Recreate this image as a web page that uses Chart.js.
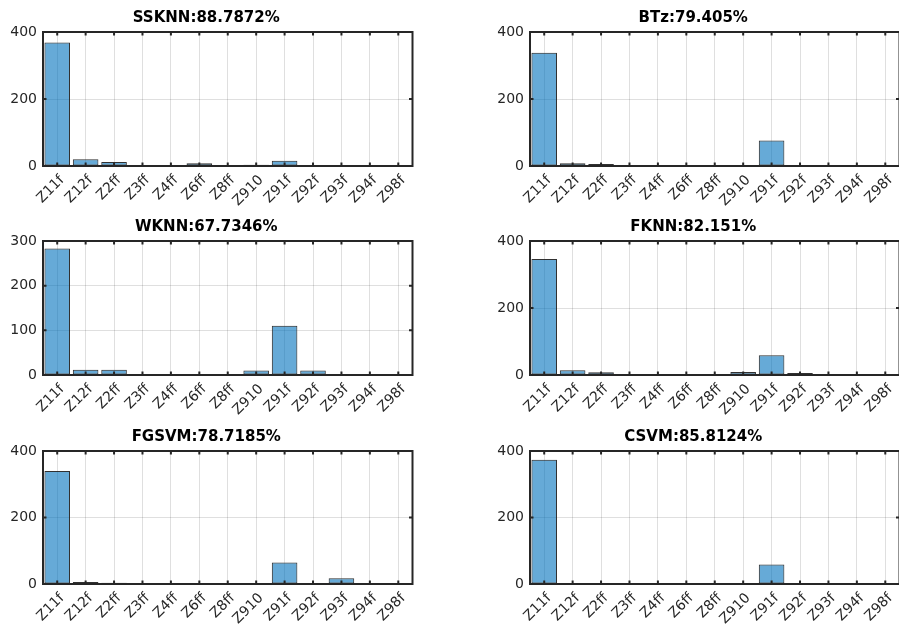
<!DOCTYPE html>
<html>
<head>
<meta charset="utf-8">
<script src="https://cdn.jsdelivr.net/npm/chart.js@4.4.1/dist/chart.umd.min.js"></script>
<style>
  html, body { margin: 0; padding: 0; background: #ffffff; }
  body { width: 899px; height: 629px; overflow: hidden; position: relative; }
  canvas { position: absolute; }
</style>
</head>
<body>
<canvas id="p1"></canvas>
<canvas id="p2"></canvas>
<canvas id="p3"></canvas>
<canvas id="p4"></canvas>
<canvas id="p5"></canvas>
<canvas id="p6"></canvas>
<script>
// Predicted-class counts for each classifier
const categories = ['Z11f', 'Z12f', 'Z2ff', 'Z3ff', 'Z4ff', 'Z6ff', 'Z8ff', 'Z910', 'Z91f', 'Z92f', 'Z93f', 'Z94f', 'Z98f'];

const ssknnCounts = [369, 20, 12, 0, 0, 8, 0, 4, 16, 2, 2, 0, 0];
const btzCounts   = [338, 8, 6, 0, 0, 0, 0, 2, 76, 2, 0, 0, 0];
const wknnCounts  = [283, 12, 12, 0, 0, 0, 0, 10, 110, 10, 0, 0, 0];
const fknnCounts  = [346, 14, 8, 0, 0, 0, 0, 9, 59, 6, 0, 0, 0];
const fgsvmCounts = [340, 6, 4, 0, 0, 0, 0, 0, 65, 3, 17, 0, 0];
const csvmCounts  = [374, 3, 2, 0, 0, 0, 0, 0, 59, 0, 0, 0, 0];

const panelTitles = ['SSKNN:88.7872%', 'BTz:79.405%', 'WKNN:67.7346%', 'FKNN:82.151%', 'FGSVM:78.7185%', 'CSVM:85.8124%'];
const yMaxima = [400, 400, 300, 400, 400, 400];
const yTickSteps = [200, 200, 100, 200, 200, 200];

// Canvas placement and plot-box geometry (page pixels)
const FONT = "'DejaVu Sans', sans-serif";
const AXIS_COLOR = '#262626';
const Y_AXIS_W = 43;
const X_AXIS_H = 40;
const TITLE_H = 32;
const CANVAS_W = 455;
const RIGHT_PAD = 42.5;
const layout = [
  { x: 0,   top: 32,  bottom: 166 },
  { x: 487, top: 32,  bottom: 166 },
  { x: 0,   top: 241, bottom: 375 },
  { x: 487, top: 241, bottom: 375 },
  { x: 0,   top: 451, bottom: 584 },
  { x: 487, top: 451, bottom: 584 }
];

// Box with inward tick marks on all four sides
const axesFrame = {
  id: 'axesFrame',
  afterDatasetsDraw(chart) {
    const { ctx, chartArea: a, scales: { x, y } } = chart;
    const len = 3.5;
    ctx.save();
    ctx.strokeStyle = AXIS_COLOR;
    ctx.lineWidth = 2;
    ctx.strokeRect(a.left, a.top, a.right - a.left, a.bottom - a.top);
    ctx.beginPath();
    x.ticks.forEach((_, i) => {
      const px = x.getPixelForTick(i);
      ctx.moveTo(px, a.bottom); ctx.lineTo(px, a.bottom - len);
      ctx.moveTo(px, a.top);    ctx.lineTo(px, a.top + len);
    });
    y.ticks.forEach((_, i) => {
      const py = y.getPixelForTick(i);
      ctx.moveTo(a.left, py);  ctx.lineTo(a.left + len, py);
      ctx.moveTo(a.right, py); ctx.lineTo(a.right - len, py);
    });
    ctx.stroke();
    ctx.restore();
  }
};

function drawPanel(canvasId, title, counts, yMax, yStep, place) {
  const canvas = document.getElementById(canvasId);
  const h = TITLE_H + (place.bottom - place.top) + X_AXIS_H;
  canvas.width = CANVAS_W;
  canvas.height = h;
  canvas.style.left = place.x + 'px';
  canvas.style.top = (place.top - TITLE_H) + 'px';
  canvas.style.width = CANVAS_W + 'px';
  canvas.style.height = h + 'px';

  return new Chart(canvas, {
    type: 'bar',
    data: {
      labels: categories,
      datasets: [{
        data: counts,
        backgroundColor: 'rgba(0, 114, 189, 0.6)',
        borderColor: 'rgba(38, 38, 38, 0.95)',
        borderWidth: 1,
        borderSkipped: false,
        barPercentage: 0.9,
        categoryPercentage: 1.0
      }]
    },
    options: {
      responsive: false,
      animation: false,
      devicePixelRatio: 1,
      layout: { padding: { left: 0, right: RIGHT_PAD, top: 0, bottom: 0 } },
      plugins: {
        legend: { display: false },
        tooltip: { enabled: false },
        title: {
          display: true,
          text: title,
          color: '#000000',
          font: { family: FONT, size: 15, weight: 'bold' },
          padding: { top: 9, bottom: 5 }
        }
      },
      scales: {
        x: {
          offset: true,
          grid: { offset: false, color: 'rgba(38, 38, 38, 0.15)', lineWidth: 1, drawTicks: false },
          border: { display: false },
          ticks: {
            autoSkip: false,
            minRotation: 45,
            maxRotation: 45,
            padding: 6,
            labelOffset: 5,
            color: AXIS_COLOR,
            font: { family: FONT, size: 14 }
          },
          afterFit(scale) { scale.height = X_AXIS_H; }
        },
        y: {
          min: 0,
          max: yMax,
          grid: { color: 'rgba(38, 38, 38, 0.15)', lineWidth: 1, drawTicks: false },
          border: { display: false },
          ticks: {
            stepSize: yStep,
            padding: 6,
            color: AXIS_COLOR,
            font: { family: FONT, size: 14 }
          },
          afterFit(scale) { scale.width = Y_AXIS_W; }
        }
      }
    },
    plugins: [axesFrame]
  });
}

const allCounts = [ssknnCounts, btzCounts, wknnCounts, fknnCounts, fgsvmCounts, csvmCounts];
allCounts.forEach((counts, i) => {
  drawPanel('p' + (i + 1), panelTitles[i], counts, yMaxima[i], yTickSteps[i], layout[i]);
});
</script>
</body>
</html>
